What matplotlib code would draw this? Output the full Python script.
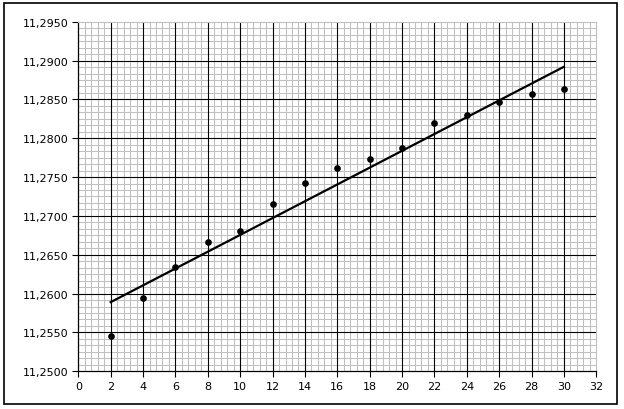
import matplotlib.pyplot as plt
import numpy as np
from matplotlib.ticker import AutoMinorLocator, FuncFormatter
from matplotlib.patches import Rectangle

# Measured points
x_vals = [2, 4, 6, 8, 10, 12, 14, 16, 18, 20, 22, 24, 26, 28, 30]
y_vals = [11.2546, 11.2594, 11.2634, 11.2667, 11.2680, 11.2715, 11.2742, 11.2762,
          11.2773, 11.2788, 11.2819, 11.2830, 11.2847, 11.2857, 11.2864]

# Fitted line end points
fit_x = [2, 30]
fit_y = [11.2589, 11.2892]

# Ticks
x_ticks = list(range(0, 34, 2))
y_ticks = [11.25, 11.255, 11.26, 11.265, 11.27, 11.275, 11.28, 11.285, 11.29, 11.295]

fig = plt.figure(figsize=(6.24, 4.10), dpi=100)
ax = fig.add_axes([0.1255, 0.092, 0.9556 - 0.1255, 0.9446 - 0.092])

ax.set_xlim(0, 32)
ax.set_ylim(11.25, 11.295)

ax.set_xticks(x_ticks)
ax.set_yticks(y_ticks)
ax.xaxis.set_minor_locator(AutoMinorLocator(5))
ax.yaxis.set_minor_locator(AutoMinorLocator(6))
ax.yaxis.set_major_formatter(FuncFormatter(lambda v, p: f"{v:.4f}".replace('.', ',')))

# light minor grid, then black major lines on top
ax.grid(which='minor', color='#c0c0c0', linewidth=0.75, zorder=0)
ax.set_axisbelow(True)
for xv in x_ticks[1:-1]:
    ax.axvline(xv, color='black', linewidth=0.8, zorder=1)
for yv in y_ticks[1:-1]:
    ax.axhline(yv, color='black', linewidth=0.8, zorder=1)

ax.tick_params(which='minor', length=0)
ax.tick_params(which='major', length=4, width=0.8, labelsize=8, colors='black', pad=3)

for s in ['top', 'right']:
    ax.spines[s].set_color('#c0c0c0')
    ax.spines[s].set_linewidth(0.8)
for s in ['left', 'bottom']:
    ax.spines[s].set_color('black')
    ax.spines[s].set_linewidth(0.9)

ax.plot(fit_x, fit_y, color='black', linewidth=1.6, zorder=3)
ax.plot(x_vals, y_vals, 'o', color='black', markersize=3.8, zorder=4)

# outer frame
fig.patches.append(Rectangle((4 / 624, 5 / 410), 613 / 624, 401 / 410,
                             transform=fig.transFigure, fill=False,
                             edgecolor='black', linewidth=1.2))

fig.savefig('out.png', dpi=100)
